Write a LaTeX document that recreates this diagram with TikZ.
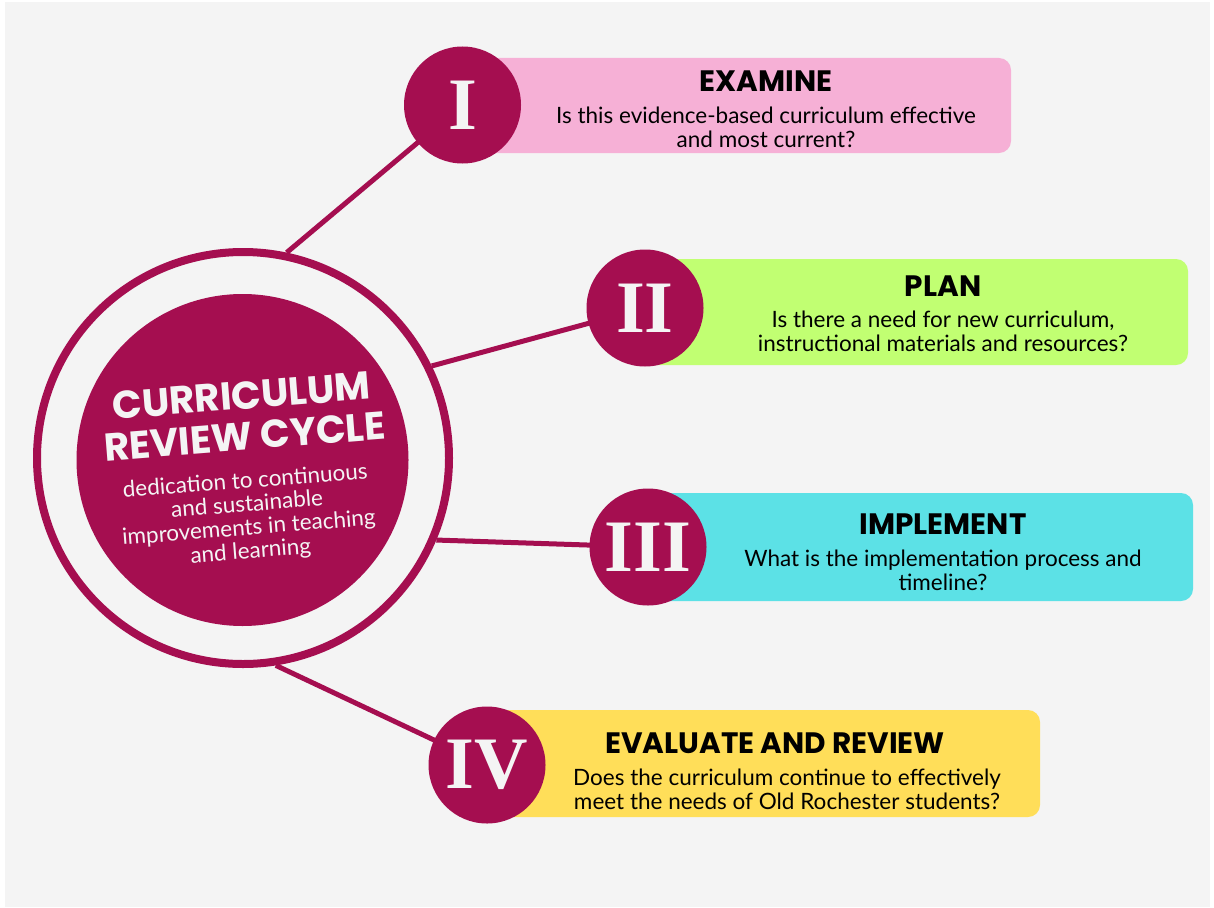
\documentclass[tikz,border=0pt]{standalone}
\usepackage{fontspec}
\setmainfont{Lato}
\newfontfamily\headfont{Poppins}
\newfontfamily\romanfont{Liberation Serif}
\definecolor{plum}{HTML}{A50E50}
\definecolor{bggray}{HTML}{F4F4F4}
\definecolor{pinkbox}{HTML}{F6B0D6}
\definecolor{greenbox}{HTML}{C1FF72}
\definecolor{cyanbox}{HTML}{5CE1E6}
\definecolor{yellowbox}{HTML}{FFDE59}
\pgfdeclarelayer{bglayer}
\pgfdeclarelayer{linelayer}
\pgfsetlayers{bglayer,linelayer,main}
\tikzset{
  numcircle/.style={circle, fill=plum, minimum size=117pt, inner sep=0pt,
    text=bggray, font=\romanfont\bfseries\fontsize{74}{74}\selectfont},
  stepbox/.style={rectangle, rounded corners=12pt, inner sep=0pt},
  conn/.style={draw=plum, line width=5pt},
  headtext/.style={font=\headfont\bfseries\fontsize{29.5}{31}\selectfont, text=black, inner sep=0pt},
  bodytext/.style={font=\fontsize{22.5}{24}\selectfont, text=black, align=center, inner sep=0pt},
}
\begin{document}
\begin{tikzpicture}[x=1pt,y=-1pt]
\useasboundingbox (0,0) rectangle (1214,907);
\begin{pgfonlayer}{bglayer}
\fill[white] (0,0) rectangle (1214,907);
\fill[bggray] (5,2) rectangle (1210,907);
\end{pgfonlayer}

% central hub
\node[circle, draw=plum, line width=8pt, minimum size=412pt, inner sep=0pt] (ring) at (243,458) {};
\node[circle, fill=plum, minimum size=332pt, inner sep=0pt] (core) at (242.5,460) {};
\node[rotate=4.5, text=bggray, align=center, inner sep=0pt,
      font=\headfont\bfseries\fontsize{39}{41}\selectfont] (title) at (243,416) {CURRICULUM\\REVIEW CYCLE};
\node[rotate=4.5, text=bggray, align=center, inner sep=0pt,
      font=\fontsize{22.5}{23.5}\selectfont] (subtitle) at (248,517) {dedication to continuous\\and sustainable\\improvements in teaching\\and learning};

% step boxes
\node[stepbox, fill=pinkbox, minimum width=549pt, minimum height=95pt] (b1) at (736.5,105.5) {};
\node[stepbox, fill=greenbox, minimum width=543pt, minimum height=106pt] (b2) at (916.5,312) {};
\node[stepbox, fill=cyanbox, minimum width=545pt, minimum height=108pt] (b3) at (920.5,547) {};
\node[stepbox, fill=yellowbox, minimum width=553pt, minimum height=107pt] (b4) at (763.5,763.5) {};

% numeral circles
\node[numcircle] (c1) at (462.5,105) {I};
\node[numcircle] (c2) at (645,308) {II};
\node[numcircle] (c3) at (648,547) {III};
\node[numcircle] (c4) at (487,765) {IV};

% texts
\node[headtext] (h1) at (766,81) {EXAMINE};
\node[bodytext] (t1) at (766,127) {Is this evidence-based curriculum effective\\and most current?};
\node[headtext] (h2) at (943,286) {PLAN};
\node[bodytext] (t2) at (943,331) {Is there a need for new curriculum,\\instructional materials and resources?};
\node[headtext] (h3) at (943,524) {IMPLEMENT};
\node[bodytext] (t3) at (943,570) {What is the implementation process and\\timeline?};
\node[headtext] (h4) at (775,743) {EVALUATE AND REVIEW};
\node[bodytext] (t4) at (787,789) {Does the curriculum continue to effectively\\meet the needs of Old Rochester students?};

% connectors
\begin{pgfonlayer}{linelayer}
\draw[conn] (ring.78.4) -- (c1.center);
\draw[conn] (ring.26.9) -- (c2.center);
\draw[conn] (ring.-23.4) -- (c3.center);
\draw[conn] (ring.-81.4) -- (c4.center);
\end{pgfonlayer}
\end{tikzpicture}
\end{document}
